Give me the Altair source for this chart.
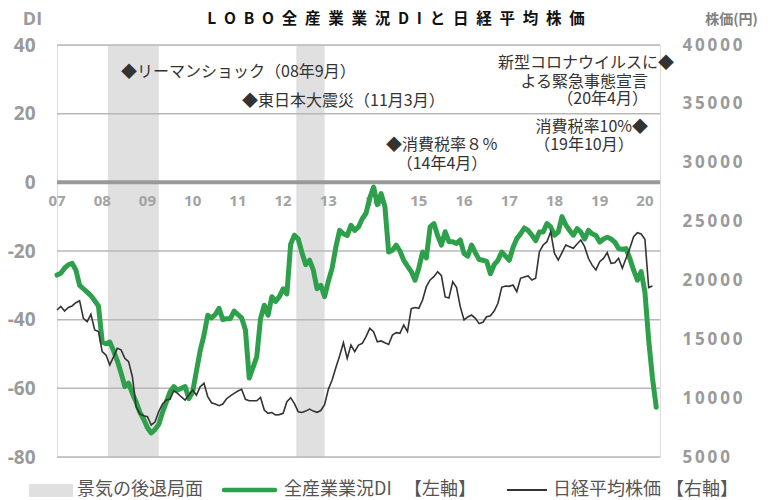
import altair as alt
import pandas as pd

# ---------------- data ----------------
years = ["07", "08", "09", "10", "11", "12", "13", "14", "15", "16", "17", "18", "19", "20"]

# LOBO all-industry business condition DI, monthly Jan 2007 .. Apr 2020
di_values = [
    -27, -26.5, -25, -24, -23.6, -25.5, -30, -31, -32, -33, -34.5, -36,          # 2007
    -46.5, -47, -46.5, -49, -52, -55.5, -59.5, -58.5, -61.5, -64, -67, -69,      # 2008
    -71.5, -73, -72, -70.5, -67, -64, -61, -59.5, -60.5, -60, -59.5, -63,        # 2009
    -61, -55, -49, -44.5, -38.7, -39.5, -38.5, -36.7, -40, -39.7, -39.7, -37.5,  # 2010
    -38.5, -39.5, -43, -57, -54, -50.8, -39.7, -35.8, -38.7, -33.3, -34.7, -33.3,  # 2011
    -31, -32.5, -18, -15.4, -16.5, -20.5, -24, -22.7, -25.5, -31, -30, -33.3,    # 2012
    -28.8, -25, -18.8, -14, -15, -15.5, -12.5, -14, -13, -10.6, -9, -4.5,        # 2013
    -1.4, -6.5, -3.3, -7, -20.3, -19.8, -18.3, -20, -22.7, -24.4, -26, -28.5,    # 2014
    -25, -20.3, -22, -13, -12, -15.5, -18.3, -14.4, -17.3, -17.3, -17.8, -16.8,  # 2015
    -20.7, -21.5, -18.3, -20.5, -22.5, -22.7, -23, -26.6, -24, -22.7, -20.3, -21.5,  # 2016
    -22.7, -19, -16.4, -15, -13.3, -14, -15.4, -17, -14.5, -14.5, -12, -13,      # 2017
    -15.4, -14.5, -10, -12.4, -14, -15.4, -13.5, -14.5, -16.5, -14, -15, -15.5,  # 2018
    -17.4, -16.5, -16, -16.5, -17.4, -19.3, -19.5, -19.3, -22.2, -25.6, -28.5, -26,  # 2019
    -32, -46, -57, -65.5,                                                         # 2020
]

# Nikkei 225 average, monthly Jan 2007 .. Mar 2020 (yen)
nikkei_values = [
    17490, 17800, 17400, 17700, 17830, 18110, 18280, 16780, 16500, 17120, 15790, 15650,  # 2007
    13950, 13660, 12820, 13500, 14230, 14100, 13380, 13100, 11820, 9270, 8650, 8500,     # 2008
    8420, 7720, 7970, 8850, 9500, 9840, 9900, 10630, 10400, 10100, 9840, 10260,          # 2009
    10690, 10260, 10970, 11260, 10120, 9610, 9500, 9360, 9500, 9950, 10200, 10410,       # 2010
    10600, 10750, 9900, 9780, 9780, 9780, 10060, 8990, 8710, 8780, 8570, 8600,           # 2011
    8710, 9700, 10040, 9540, 8850, 8780, 8900, 9070, 8900, 8800, 8950, 9450,             # 2012
    10750, 11540, 12600, 13600, 14710, 13380, 14510, 13950, 14510, 14650, 15220, 15930,  # 2013
    15650, 14790, 14860, 14700, 14560, 15360, 15560, 15500, 16210, 15650, 17600, 17700,  # 2014
    17630, 18340, 19470, 20040, 20320, 20740, 20400, 18600, 18500, 19890, 19410, 17770,  # 2015
    16640, 16900, 17060, 16780, 16330, 16450, 16920, 17000, 17400, 18060, 19420, 19530,  # 2016
    19500, 19610, 19050, 20180, 20300, 20380, 20040, 20180, 22440, 23010, 23290, 24140,  # 2017
    22300, 21730, 22360, 23010, 22870, 22730, 23100, 23430, 22870, 21880, 21300, 20890,  # 2018
    21590, 21870, 22360, 21450, 21500, 21880, 21030, 21880, 22730, 23720, 24060, 23950,  # 2019
    23490, 19400, 19530,                                                                   # 2020
]

recession_start = ["2008-02", "2012-04"]
recession_end = ["2009-03", "2012-11"]

di_ticks = [40, 20, 0, -20, -40, -60, -80]
grid_ticks = [40, 20, -20, -40, -60, -80]
price_ticks = [5000, 10000, 15000, 20000, 25000, 30000, 35000, 40000]

title_text = "LOBO全産業業況DIと日経平均株価"
legend_recession = "景気の後退局面"
legend_di = "全産業業況DI"
legend_left = "【左軸】"
legend_nikkei = "日経平均株価"
legend_right = "【右軸】"

# ---------------- helpers ----------------
JP = "Noto Sans CJK JP"
NUM = "Open Sans"
X0, Y0 = 57, 45          # page position of plot origin
W, H = 603, 412
DI_DOMAIN = [-80, 40]
N_DOMAIN = [0, 160]


def month_index(s):
    y, m = s.split("-")
    return (int(y) - 2007) * 12 + int(m) - 1


di_df = pd.DataFrame({"m": list(range(len(di_values))), "di": di_values})
nk_df = pd.DataFrame({"m": list(range(len(nikkei_values))), "price": nikkei_values})
rec_df = pd.DataFrame({
    "s": [month_index(s) + 0.5 for s in recession_start],
    "e": [month_index(e) + 1 for e in recession_end],
})
yr_df = pd.DataFrame({"lab": years, "m": [i * 12 for i in range(len(years))]})
grid_df = pd.DataFrame({"v": grid_ticks})

xs = alt.Scale(domain=N_DOMAIN, nice=False, zero=False)
ys = alt.Scale(domain=DI_DOMAIN, nice=False, zero=False)

left_axis = alt.Axis(
    values=di_ticks, grid=False, ticks=False, domain=False,
    labelPadding=22, labelFont=NUM, labelFontSize=19, labelFontWeight="bold",
    labelColor="#9a9a9a",
    labelExpr="datum.value < 0 ? '-' + abs(datum.value) : '' + datum.value",
    title="DI", titleAngle=0, titleFont=NUM, titleFontSize=18, titleFontWeight="bold",
    titleColor="#9a9a9a", titleAlign="center", titleBaseline="middle",
    titleX=32 - X0, titleY=19 - Y0,
)


def label(text, x, y, align="left", size=16, color="#333333", weight="normal", font=JP):
    return alt.Chart(pd.DataFrame({"t": [text]})).mark_text(
        align=align, baseline="middle", fontSize=size, color=color,
        fontWeight=weight, font=font
    ).encode(x=alt.value(x - X0), y=alt.value(y - Y0), text="t:N")


shade = alt.Chart(rec_df).mark_rect(color="#e0e0e0").encode(
    x=alt.X("s:Q", scale=xs, axis=None),
    x2="e:Q",
    y=alt.value(0),
    y2=alt.value(H),
)

grid = alt.Chart(grid_df).mark_rule(color="#b8b8b8", strokeWidth=1.5).encode(
    y=alt.Y("v:Q", scale=ys, axis=left_axis),
    x=alt.value(0),
    x2=alt.value(W),
)

zero = alt.Chart(pd.DataFrame({"v": [0]})).mark_rule(color="#999999", strokeWidth=4).encode(
    y=alt.Y("v:Q", scale=ys, axis=left_axis),
    x=alt.value(0),
    x2=alt.value(W),
)

year_text = alt.Chart(yr_df).mark_text(
    font=NUM, fontSize=15, fontWeight="bold", color="#a3a3a3", baseline="middle"
).encode(
    x=alt.X("m:Q", scale=xs, axis=None),
    y=alt.value(201 - Y0),
    text="lab:N",
)

di_line = alt.Chart(di_df).mark_line(
    color="#2e9f4a", strokeWidth=5, strokeJoin="round", strokeCap="round"
).encode(
    x=alt.X("m:Q", scale=xs, axis=None),
    y=alt.Y("di:Q", scale=ys, axis=left_axis),
)

nk_line = alt.Chart(nk_df).mark_line(color="#333333", strokeWidth=1.6).encode(
    x=alt.X("m:Q", scale=xs, axis=None),
    y=alt.Y(
        "price:Q", scale=alt.Scale(domain=[5000, 40000], nice=False, zero=False),
        axis=alt.Axis(
            orient="right", values=price_ticks, grid=False, ticks=False, domain=False,
            format="d", labelAlign="left", labelPadding=22, labelFont=NUM,
            labelFontSize=17, labelFontWeight="bold", labelColor="#9a9a9a",
            labelExpr="join(split(datum.label, ''), '\u2009')",
            title="株価(円)", titleAngle=0, titleFont=JP, titleFontSize=14,
            titleFontWeight="bold", titleColor="#808080", titleAlign="center",
            titleBaseline="middle", titleX=731 - (X0 + W), titleY=19 - Y0,
        ),
    ),
)

spaced_title = "\u2002".join(list(title_text))

annotations = [
    label("◆リーマンショック（08年9月）", 121, 72),
    label("◆東日本大震災（11月3月）", 242, 101),
    label("◆消費税率８％", 386, 145),
    label("（14年4月）", 442, 164, align="center"),
    label("新型コロナウイルスに◆", 674, 63, align="right"),
    label("よる緊急事態宣言", 648, 82, align="right"),
    label("（20年4月）", 648, 99, align="right"),
    label("消費税率10%◆", 648, 127, align="right"),
    label("（19年10月）", 584, 145, align="center"),
    label(spaced_title, 396, 19, align="center", size=15.5, color="#111111", weight="bold"),
]

leg_rect = alt.Chart(pd.DataFrame({"a": [0]})).mark_rect(color="#e0e0e0").encode(
    x=alt.value(29 - X0), x2=alt.value(73 - X0),
    y=alt.value(484 - Y0), y2=alt.value(497 - Y0),
)
leg_green = alt.Chart(pd.DataFrame({"a": [0]})).mark_rule(
    color="#2e9f4a", strokeWidth=4.5, strokeCap="round"
).encode(x=alt.value(224 - X0), x2=alt.value(275 - X0), y=alt.value(490 - Y0))
leg_black = alt.Chart(pd.DataFrame({"a": [0]})).mark_rule(
    color="#333333", strokeWidth=2
).encode(x=alt.value(507 - X0), x2=alt.value(547 - X0), y=alt.value(490 - Y0))

legend_texts = [
    label(legend_recession, 77, 490, size=18, color="#555555"),
    label(legend_di, 284, 490, size=18, color="#555555"),
    label(legend_left, 404, 490, size=18, color="#555555"),
    label(legend_nikkei, 553, 490, size=18, color="#555555"),
    label(legend_right, 666, 490, size=18, color="#555555"),
]

di_layer = alt.layer(
    shade, grid, zero, year_text, *annotations, leg_rect, leg_green, leg_black,
    *legend_texts, di_line,
)

chart = alt.layer(di_layer, nk_line).resolve_scale(y="independent").properties(
    width=W, height=H,
    autosize=alt.AutoSizeParams(type="none"),
    padding={"left": X0 - 8, "top": Y0 - 8, "right": 107, "bottom": 43},
).configure_view(stroke=None).configure(background="white")

chart.save("out.html", embed_options={"renderer": "svg", "actions": False})
